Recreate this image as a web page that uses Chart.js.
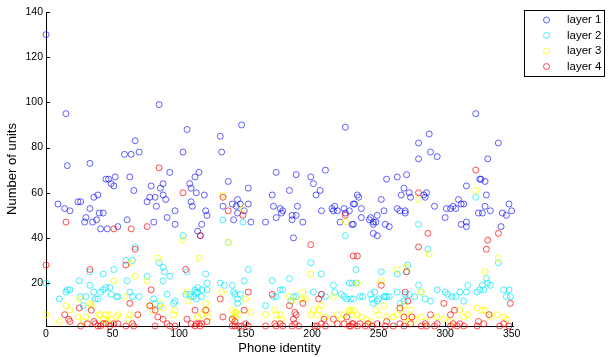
<!DOCTYPE html>
<html>
<head>
<meta charset="utf-8">
<script src="https://cdn.jsdelivr.net/npm/chart.js@4/dist/chart.umd.min.js"></script>
<style>
html,body{margin:0;padding:0;background:#fff;}
#wrap{width:612px;height:357px;}
</style>
</head>
<body>
<div id="wrap"><canvas id="c" width="612" height="357"></canvas></div>
<script>
// ---- data ----
const seriesLabels = ['layer 1', 'layer 2', 'layer 3', 'layer 4'];
const xTicks = [0, 50, 100, 150, 200, 250, 300, 350];
const yTicks = [20, 40, 60, 80, 100, 120, 140];

const layer1X = [0,15,16,33,45,47,52,59,64,67,70,63,85,93,103,106,112,115,49,51,108,109,113,79,88,86,66,39,36,24,26,9,14,18,33,78,82,76,88,90,83,109,110,97,40,43,30,29,38,35,91,97,81,61,54,41,46,114,116,
147,131,132,225,137,173,188,199,210,201,203,206,183,170,152,119,152,144,140,146,143,133,120,121,149,144,141,154,117,165,171,176,178,177,173,189,185,185,188,193,186,207,215,217,216,219,224,228,221,230,231,225,
323,288,280,340,289,294,280,332,271,264,256,326,327,330,316,331,269,267,273,274,284,286,285,252,234,235,232,237,237,254,249,244,243,246,248,246,231,255,258,246,249,264,266,270,270,292,300,301,304,306,308,310,312,314,312,316,316,325,328,334,330,343,346,348,350,342];
const layer1Y = [130,95,72,73,66,66,67,77,77,83,78,67,99,69,78,88,67,69,64,63,64,62,60,63,64,62,61,59,58,56,56,55,53,52,53,58,58,56,59,57,54,56,54,52,51,51,49,47,48,47,49,46,47,48,45,44,44,43,41,
90,85,78,89,65,69,68,67,70,64,59,61,61,59,62,59,55,57,55,55,54,54,52,50,52,51,48,47,46,47,54,53,52,51,49,54,50,48,50,47,40,52,53,54,52,52,53,52,47,46,55,51,
95,86,82,82,78,76,75,75,68,67,66,66,66,65,63,59,62,59,60,58,59,60,58,57,59,58,55,53,49,52,50,49,48,47,47,46,46,46,45,42,41,53,52,52,51,54,49,53,53,54,53,57,55,55,46,47,45,51,51,52,54,51,50,55,52,45];

const layer2X = [103,67,133,148,137,225,280,287,323,
0,10,15,16,18,25,26,30,28,33,33,36,37,39,41,43,45,48,49,53,54,43,51,61,63,65,70,60,65,76,85,88,89,93,88,91,81,82,86,97,96,106,105,108,109,111,113,114,
199,120,152,149,170,183,207,112,117,121,121,131,134,140,142,146,144,144,141,114,113,117,165,171,176,178,173,186,184,188,201,207,210,216,217,222,224,226,229,228,230,
340,233,252,264,272,271,280,233,231,236,238,244,245,246,247,249,250,254,255,256,258,264,266,269,270,273,277,282,285,289,294,300,302,305,308,311,314,316,317,324,326,328,329,331,332,334,344,346,348,349];
const layer2Y = [41,36,48,47,38,41,46,35,58,
20,13,16,17,17,21,14,14,10,25,19,16,13,13,16,17,18,18,15,14,14,24,26,21,16,14,14,30,30,23,29,27,25,23,21,15,13,11,10,12,11,25,15,15,14,14,16,18,
29,24,26,21,21,22,24,17,17,20,17,20,19,19,15,15,13,11,16,16,13,14,10,14,17,17,14,14,12,14,16,15,14,19,16,15,14,13,13,20,20,
29,26,25,24,28,25,19,20,13,14,14,15,13,11,16,12,13,14,14,14,14,16,11,12,15,15,14,16,13,12,17,16,15,14,14,16,12,16,19,16,17,19,17,22,20,19,17,14,17,14];

const layer3X = [103,133,148,225,280,323,137,
0,10,15,18,25,24,30,28,33,34,40,41,45,47,49,53,54,43,46,51,59,64,67,63,62,76,78,80,84,86,88,97,96,106,107,115,
199,120,121,117,114,122,132,140,142,143,145,142,140,150,154,165,172,173,176,177,183,185,193,192,195,201,205,207,204,210,199,216,219,224,228,230,222,
288,340,264,271,252,234,330,282,229,231,234,237,241,244,248,250,254,256,261,264,266,269,271,274,273,277,282,286,294,299,304,311,314,317,324,328,330,334,339,344,346];
const layer3Y = [39,59,53,47,57,61,38,
6,3,10,8,13,5,5,3,11,10,6,6,6,6,4,5,6,4,3,21,14,29,23,6,4,21,10,8,31,11,9,8,6,16,12,31,
24,11,8,6,5,5,16,8,7,7,6,5,4,13,7,6,8,6,6,4,14,12,16,13,13,8,8,10,6,5,6,14,6,6,8,6,4,
33,31,26,27,21,20,25,16,8,8,6,5,4,3,8,6,10,5,5,6,8,10,5,8,3,4,5,3,5,4,3,8,5,6,9,8,8,5,6,5,4];

const layer4X = [85,103,15,51,64,76,116,133,137,148,199,225,323,280,340,332,287,280,331,67,
0,14,17,18,25,33,34,26,31,36,37,39,41,43,45,48,51,54,60,63,69,60,66,65,79,78,82,84,88,91,93,97,82,105,106,109,112,112,115,
120,121,117,113,116,131,133,140,142,145,142,140,149,152,152,147,150,165,172,173,178,176,170,183,187,188,186,187,185,190,193,207,205,202,207,209,204,210,216,219,224,228,230,226,231,
234,271,252,270,272,266,299,269,275,289,304,307,333,349,229,231,234,236,240,242,245,249,255,256,261,266,269,274,282,285,286,292,294,304,306,309,311,314,324,325,329,341,344,348];
const layer4Y = [71,60,47,44,44,45,41,58,52,50,37,50,70,60,42,39,42,36,35,35,
28,6,4,3,9,26,8,1,2,3,2,1,1,2,2,1,2,2,28,11,6,1,1,2,17,10,8,5,4,2,1,1,1,26,4,2,8,1,2,
8,3,2,2,1,13,5,4,3,1,1,1,8,16,1,1,2,1,2,1,1,2,15,10,7,6,4,2,1,1,11,15,13,1,2,4,1,1,4,2,2,1,2,5,32,
32,25,19,16,12,9,11,5,5,6,6,8,6,11,1,2,1,2,1,2,1,2,1,3,1,2,1,2,1,2,1,1,2,1,2,1,2,1,1,3,2,1,2,1];

// ---- chart ----
const FONT = "'Liberation Sans', Arial, Helvetica, sans-serif";
const colors = ['rgba(0,0,255,0.62)', 'rgba(0,230,255,0.7)', 'rgba(255,255,0,0.8)', 'rgba(255,0,0,0.7)'];

function toPoints(xs, ys) {
  const n = Math.min(xs.length, ys.length);
  const pts = [];
  for (let i = 0; i < n; i++) pts.push({x: xs[i], y: ys[i]});
  return pts;
}
const allX = [layer1X, layer2X, layer3X, layer4X];
const allY = [layer1Y, layer2Y, layer3Y, layer4Y];

const datasets = seriesLabels.map((lab, i) => ({
  label: lab,
  data: toPoints(allX[i], allY[i]),
  borderColor: colors[i],
  backgroundColor: 'rgba(0,0,0,0)',
  pointBackgroundColor: 'rgba(0,0,0,0)',
  pointBorderColor: colors[i],
  pointRadius: 3,
  pointHoverRadius: 3,
  pointBorderWidth: 1,
  showLine: false,
  clip: false,
  order: 4 - i
}));

const overlay = {
  id: 'overlay',
  afterDraw(chart) {
    const ctx = chart.ctx;
    const xs = chart.scales.x, ys = chart.scales.y;
    const a = chart.chartArea;
    ctx.save();
    ctx.strokeStyle = '#000';
    ctx.lineWidth = 1;
    ctx.beginPath();
    xTicks.forEach(v => {
      const px = Math.round(xs.getPixelForValue(v)) + 0.5;
      ctx.moveTo(px, Math.round(a.bottom));
      ctx.lineTo(px, Math.round(a.bottom) - 4);
    });
    yTicks.forEach(v => {
      const py = Math.round(ys.getPixelForValue(v)) + 0.5;
      ctx.moveTo(Math.round(a.left), py);
      ctx.lineTo(Math.round(a.left) + 4, py);
    });
    ctx.stroke();

    // legend box
    const lx = 524, ly = 10, lw = 80, lh = 66;
    ctx.fillStyle = '#fff';
    ctx.fillRect(lx, ly, lw, lh);
    ctx.strokeStyle = '#000';
    ctx.strokeRect(lx + 0.5, ly + 0.5, lw, lh);
    ctx.font = '11.5px ' + FONT;
    ctx.textBaseline = 'middle';
    ctx.textAlign = 'left';
    const rows = [20, 35.5, 51, 66.5];
    chart.data.datasets.forEach((ds, i) => {
      ctx.beginPath();
      ctx.strokeStyle = ds.borderColor;
      ctx.arc(546.5, rows[i], 3, 0, Math.PI * 2);
      ctx.stroke();
      ctx.fillStyle = '#000';
      ctx.fillText(ds.label, 567, rows[i]);
    });
    ctx.restore();
  }
};

new Chart(document.getElementById('c'), {
  type: 'scatter',
  data: { datasets },
  options: {
    responsive: false,
    animation: false,
    events: [],
    layout: { padding: { left: 0, top: 12, right: 99, bottom: 0 } },
    plugins: { legend: { display: false }, tooltip: { enabled: false } },
    scales: {
      x: {
        type: 'linear',
        min: 0, max: 351,
        afterBuildTicks: s => { s.ticks = xTicks.map(v => ({ value: v })); },
        grid: { display: false, drawTicks: false },
        border: { display: true, color: '#000', width: 1 },
        ticks: {
          autoSkip: false, padding: 2, color: '#000',
          font: { family: FONT, size: 10.5 }, maxRotation: 0, minRotation: 0,
          callback: v => String(v)
        },
        title: { display: true, text: 'Phone identity', color: '#000',
          font: { family: FONT, size: 13 }, padding: { top: 0, bottom: 1 } },
        afterFit: s => { s.height = 31; }
      },
      y: {
        type: 'linear',
        min: 1, max: 140,
        afterBuildTicks: s => { s.ticks = yTicks.map(v => ({ value: v })); },
        grid: { display: false, drawTicks: false },
        border: { display: true, color: '#000', width: 1 },
        ticks: {
          autoSkip: false, padding: 3, color: '#000',
          font: { family: FONT, size: 10.5 },
          callback: v => String(v)
        },
        title: { display: true, text: 'Number of units', color: '#000',
          font: { family: FONT, size: 13 }, padding: { top: 5, bottom: 0 } },
        afterFit: s => { s.width = 46; }
      }
    }
  },
  plugins: [overlay]
});
</script>
</body>
</html>
